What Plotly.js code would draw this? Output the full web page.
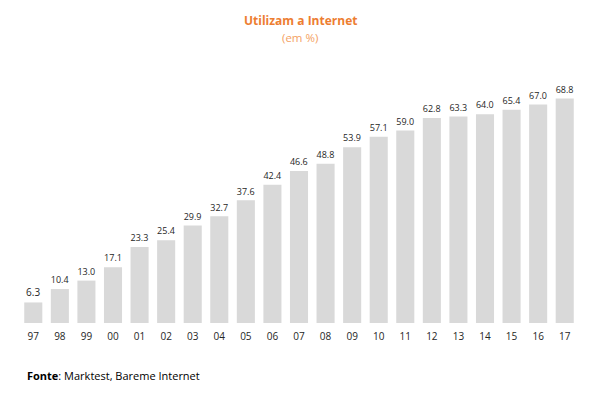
<!DOCTYPE html>
<html>
<head>
<meta charset="utf-8">
<script src="https://cdn.plot.ly/plotly-3.0.1.min.js"></script>
<style>html,body{margin:0;padding:0;background:#fff;}#chart{width:600px;height:398px;}</style>
</head>
<body>
<div id="chart"></div>
<script>
const years = ['97','98','99','00','01','02','03','04','05','06','07','08','09','10','11','12','13','14','15','16','17'];
const values = [6.3,10.4,13.0,17.1,23.3,25.4,29.9,32.7,37.6,42.4,46.6,48.8,53.9,57.1,59.0,62.8,63.3,64.0,65.4,67.0,68.8];
const titleText = 'Utilizam a Internet';
const subtitleText = '(em %)';
const sourceText = '<b>Fonte</b>: Marktest, Bareme Internet';

const font = 'Open Sans, Liberation Sans, sans-serif';
const trace = {
  type: 'bar',
  x: years,
  y: values,
  marker: {color: '#D9D9D9'},
  width: 0.68,
  text: values.map(v => v.toFixed(1)),
  textposition: 'outside',
  textfont: {family: font, size: 10, color: '#262626'},
  cliponaxis: false,
  hoverinfo: 'x+y'
};
const layout = {
  width: 600, height: 398,
  margin: {l: 20, r: 22, t: 62, b: 75},
  paper_bgcolor: '#fff', plot_bgcolor: '#fff',
  showlegend: false,
  xaxis: {type: 'category', showgrid: false, zeroline: false, showline: false, ticks: '',
          tickfont: {family: font, size: 10, color: '#262626'}, ticklabelstandoff: 6},
  yaxis: {range: [0, 80], visible: false, showgrid: false, zeroline: false},
  annotations: [
    {text: '<b>' + titleText + '</b>', xref: 'paper', yref: 'paper', x: 0.5 + (300 - 20 - 279)/558, y: 1, yshift: 42, xanchor: 'center', yanchor: 'middle', showarrow: false,
     font: {family: font, size: 12, color: '#ED7D31'}},
    {text: subtitleText, xref: 'paper', yref: 'paper', x: 0.5 + (300 - 20 - 279)/558, y: 1, yshift: 25, xanchor: 'center', yanchor: 'middle', showarrow: false,
     font: {family: font, size: 11.5, color: '#F4A163'}},
    {text: sourceText, xref: 'paper', yref: 'paper', x: 0, xshift: 5, y: 0, yshift: -52, xanchor: 'left', yanchor: 'middle', showarrow: false,
     font: {family: font, size: 11, color: '#000'}}
  ]
};
Plotly.newPlot('chart', [trace], layout, {displayModeBar: false, staticPlot: true});
</script>
</body>
</html>
